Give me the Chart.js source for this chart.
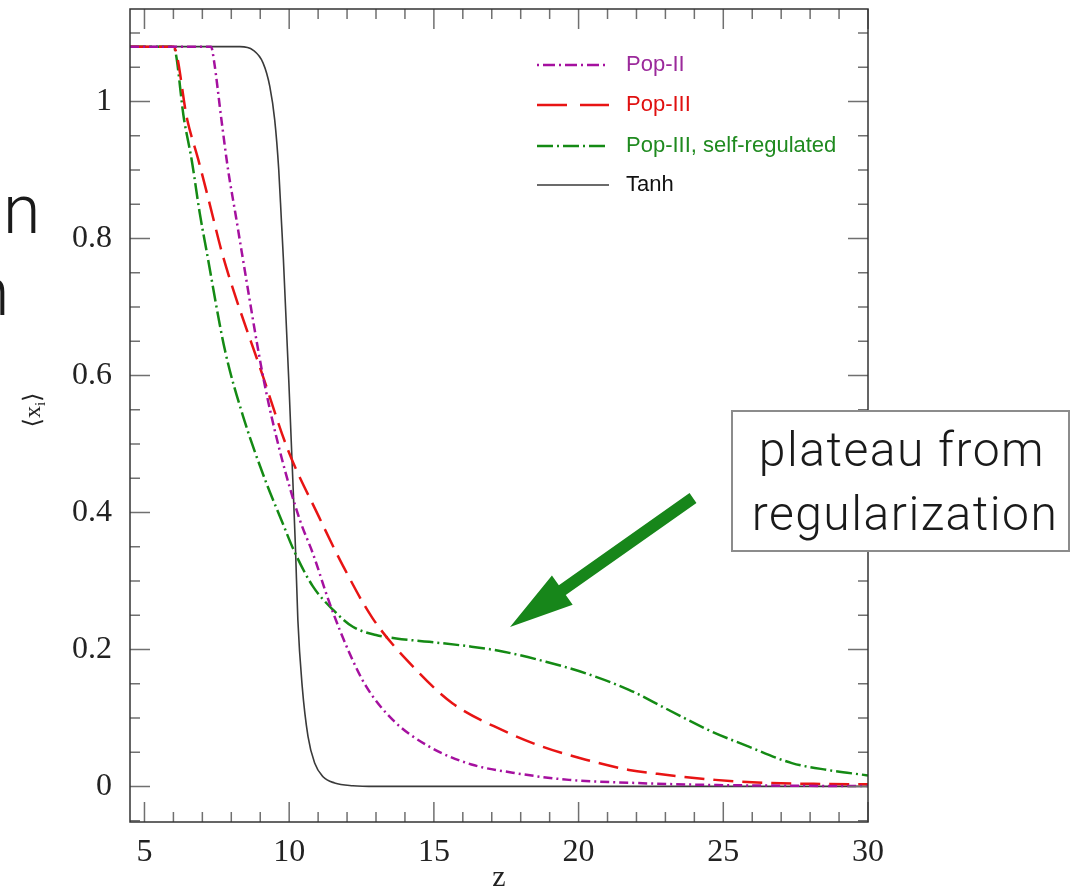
<!DOCTYPE html>
<html>
<head>
<meta charset="utf-8">
<script src="https://cdn.jsdelivr.net/npm/chart.js@4.4.1/dist/chart.umd.min.js"></script>
<style>
  html, body { margin: 0; padding: 0; background: #fff; }
</style>
</head>
<body>
<canvas id="chart" width="1073" height="892"></canvas>
<script>
// ionized fraction <x_i> against redshift z
const popIIZ = [4.5, 7.3, 7.4, 7.66, 7.89, 8.16, 8.35, 9.1, 9.67, 10.36, 10.82, 11.4, 12.09, 12.66, 13.58, 14.84, 16.3, 17.72, 19.67, 21.97, 24, 27, 30];
const popIIX = [1.08, 1.08, 1.06, 0.973, 0.9, 0.832, 0.783, 0.598, 0.491, 0.39, 0.34, 0.267, 0.194, 0.146, 0.097, 0.058, 0.032, 0.02, 0.0095, 0.005, 0.0025, 0.001, 0.0005];

const popIIIZ = [4.5, 6.0, 6.48, 6.86, 7.22, 7.72, 9.1, 9.96, 11.0, 11.86, 12.89, 14.39, 15.65, 17.37, 18.75, 20.25, 21.74, 23.0, 24.73, 26.57, 28.5, 30];
const popIIIX = [1.08, 1.08, 0.973, 0.915, 0.856, 0.773, 0.598, 0.491, 0.396, 0.322, 0.245, 0.17, 0.121, 0.082, 0.058, 0.039, 0.024, 0.017, 0.0095, 0.005, 0.0035, 0.003];

const selfRegZ = [4.5, 6.0, 6.37, 6.63, 6.91, 7.14, 7.78, 8.41, 9.21, 9.73, 10.19, 10.82, 11.51, 12.2, 13.0, 13.7, 14.84, 16.3, 17.37, 18.87, 20.25, 21.74, 23.0, 24.5, 25.88, 27.37, 28.6, 30];
const selfRegX = [1.08, 1.08, 0.973, 0.915, 0.837, 0.783, 0.637, 0.54, 0.443, 0.389, 0.342, 0.292, 0.258, 0.233, 0.221, 0.216, 0.211, 0.204, 0.197, 0.182, 0.165, 0.141, 0.114, 0.082, 0.058, 0.034, 0.024, 0.016];

const tanhZ = [4.5, 8.3, 8.75, 9.1, 9.33, 9.5, 9.64, 9.73, 9.8, 9.99, 10.13, 10.22, 10.3, 10.45, 10.65, 10.88, 11.17, 11.57, 12.2, 13, 30];
const tanhX = [1.08, 1.08, 1.075, 1.056, 1.022, 0.973, 0.9, 0.827, 0.77, 0.589, 0.443, 0.345, 0.243, 0.146, 0.073, 0.034, 0.014, 0.005, 0.001, 0, 0];

const seriesLabels = ["Pop-II", "Pop-III", "Pop-III, self-regulated", "Tanh"];
const xTicks = [5, 10, 15, 20, 25, 30];
const yTicks = [0, 0.2, 0.4, 0.6, 0.8, 1];

const toPoints = (zs, xs) => zs.map((z, i) => ({ x: z, y: xs[i] }));

const serif = "'Liberation Serif', 'DejaVu Serif', serif";
const sans = "'Liberation Sans', Arial, sans-serif";
const light = "Roboto, 'Liberation Sans', sans-serif";

const overlay = {
  id: "overlay",
  afterDraw(chart) {
    const ctx = chart.ctx;
    const { left, right, top, bottom } = chart.chartArea;
    const xs = chart.scales.x;
    const ys = chart.scales.y;
    ctx.save();

    // inward ticks on all four sides
    ctx.strokeStyle = "#707070";
    ctx.lineWidth = 1.5;
    ctx.beginPath();
    for (let z = 5; z <= 30; z++) {
      const px = xs.getPixelForValue(z);
      const len = z % 5 === 0 ? 20 : 10;
      ctx.moveTo(px, bottom);
      ctx.lineTo(px, bottom - len);
      ctx.moveTo(px, top);
      ctx.lineTo(px, top + len);
    }
    for (let k = -1; k <= 22; k++) {
      const py = ys.getPixelForValue(k * 0.05);
      const len = k % 4 === 0 ? 20 : 10;
      ctx.moveTo(left, py);
      ctx.lineTo(left + len, py);
      ctx.moveTo(right, py);
      ctx.lineTo(right - len, py);
    }
    ctx.stroke();

    ctx.strokeStyle = "#333";
    ctx.lineWidth = 1.5;
    ctx.strokeRect(left, top, right - left, bottom - top);

    // axis titles
    ctx.fillStyle = "#222";
    ctx.font = "30px " + serif;
    ctx.textAlign = "center";
    ctx.textBaseline = "alphabetic";
    ctx.fillText("z", (left + right) / 2, 886);

    ctx.save();
    ctx.translate(40, 410);
    ctx.rotate(-Math.PI / 2);
    ctx.font = "24px " + serif;
    ctx.textAlign = "left";
    const w1 = ctx.measureText("\u27E8x").width;
    ctx.font = "15px " + serif;
    const w2 = ctx.measureText("i").width;
    ctx.font = "24px " + serif;
    const w3 = ctx.measureText("\u27E9").width;
    const x0 = -(w1 + w2 + w3) / 2;
    ctx.fillText("\u27E8x", x0, 0);
    ctx.font = "15px " + serif;
    ctx.fillText("i", x0 + w1, 5);
    ctx.font = "24px " + serif;
    ctx.fillText("\u27E9", x0 + w1 + w2, 0);
    ctx.restore();

    // legend
    const rowY = [65, 105, 146, 185];
    chart.data.datasets.forEach((ds, i) => {
      ctx.strokeStyle = ds.borderColor;
      ctx.lineWidth = ds.borderWidth;
      ctx.setLineDash(ds.legendDash || []);
      ctx.beginPath();
      ctx.moveTo(537, rowY[i]);
      ctx.lineTo(609, rowY[i]);
      ctx.stroke();
      ctx.setLineDash([]);
      ctx.fillStyle = ds.textColor;
      ctx.font = "22px " + sans;
      ctx.textAlign = "left";
      ctx.textBaseline = "middle";
      ctx.fillText(ds.label, 626, rowY[i]);
    });

    // slide fragments on the left edge
    ctx.fillStyle = "#1a1a1a";
    ctx.font = "300 68px " + light;
    ctx.textBaseline = "alphabetic";
    ctx.textAlign = "left";
    ctx.fillText("n", 3, 233);
    ctx.fillText("n", -28, 315);

    // callout box
    ctx.fillStyle = "#fff";
    ctx.fillRect(732, 411, 337, 140);
    ctx.strokeStyle = "#8c8c8c";
    ctx.lineWidth = 2;
    ctx.strokeRect(732, 411, 337, 140);
    ctx.fillStyle = "#1a1a1a";
    ctx.font = "300 48px " + light;
    ctx.textAlign = "left";
    ctx.letterSpacing = "1.5px";
    const line1 = "plateau from";
    const line2 = "regularization";
    const lw1 = ctx.measureText(line1).width;
    const lw2 = ctx.measureText(line2).width;
    ctx.fillText(line1, 902 - lw1 / 2, 466);
    ctx.fillText(line2, 905 - lw2 / 2, 530);
    ctx.letterSpacing = "0px";

    // arrow
    const tail = { x: 693, y: 498 };
    const tip = { x: 510, y: 627 };
    const dx = tip.x - tail.x, dy = tip.y - tail.y;
    const L = Math.hypot(dx, dy);
    const ux = dx / L, uy = dy / L;
    const nx = -uy, ny = ux;
    const headLen = 64, headHalf = 18, shaftHalf = 6;
    const bx = tip.x - ux * headLen, by = tip.y - uy * headLen;
    ctx.fillStyle = "#17861a";
    ctx.beginPath();
    ctx.moveTo(tail.x + nx * shaftHalf, tail.y + ny * shaftHalf);
    ctx.lineTo(bx + nx * shaftHalf, by + ny * shaftHalf);
    ctx.lineTo(bx + nx * headHalf, by + ny * headHalf);
    ctx.lineTo(tip.x, tip.y);
    ctx.lineTo(bx - nx * headHalf, by - ny * headHalf);
    ctx.lineTo(bx - nx * shaftHalf, by - ny * shaftHalf);
    ctx.lineTo(tail.x - nx * shaftHalf, tail.y - ny * shaftHalf);
    ctx.closePath();
    ctx.fill();

    ctx.restore();
  }
};

new Chart(document.getElementById("chart"), {
  type: "line",
  data: {
    datasets: [
      {
        label: seriesLabels[0],
        data: toPoints(popIIZ, popIIX),
        borderColor: "#a5109f",
        textColor: "#9b2a9b",
        borderWidth: 2.5,
        borderDash: [9, 4, 2, 4],
        legendDash: [2, 4, 12, 4],
      },
      {
        label: seriesLabels[1],
        data: toPoints(popIIIZ, popIIIX),
        borderColor: "#e81414",
        textColor: "#e01010",
        borderWidth: 2.5,
        borderDash: [20, 9],
        legendDash: [30, 13],
      },
      {
        label: seriesLabels[2],
        data: toPoints(selfRegZ, selfRegX),
        borderColor: "#148a14",
        textColor: "#1f8a1f",
        borderWidth: 2.5,
        borderDash: [16, 4, 2, 4],
        legendDash: [16, 4, 2, 4],
      },
      {
        label: seriesLabels[3],
        data: toPoints(tanhZ, tanhX),
        borderColor: "#3a3a3a",
        textColor: "#111",
        borderWidth: 1.6,
      },
    ],
  },
  options: {
    responsive: false,
    animation: false,
    layout: { padding: { top: 9, right: 205, left: 0, bottom: 0 } },
    elements: {
      point: { radius: 0 },
      line: { cubicInterpolationMode: "monotone", fill: false },
    },
    plugins: {
      legend: { display: false },
      tooltip: { enabled: false },
    },
    scales: {
      x: {
        type: "linear",
        min: 4.5,
        max: 30,
        afterBuildTicks: (scale) => {
          scale.ticks = xTicks.map((v) => ({ value: v }));
        },
        afterFit: (scale) => {
          scale.height = 70;
          scale.paddingLeft = 0;
          scale.paddingRight = 0;
        },
        grid: { display: false, drawTicks: false },
        border: { display: false },
        ticks: {
          color: "#222",
          padding: 11,
          maxRotation: 0,
          font: { family: serif, size: 32 },
        },
      },
      y: {
        type: "linear",
        min: -0.052,
        max: 1.135,
        afterBuildTicks: (scale) => {
          scale.ticks = yTicks.map((v) => ({ value: v }));
        },
        afterFit: (scale) => {
          scale.width = 130;
          scale.paddingTop = 0;
          scale.paddingBottom = 0;
        },
        grid: { display: false, drawTicks: false },
        border: { display: false },
        ticks: {
          color: "#222",
          padding: 18,
          font: { family: serif, size: 32 },
          callback: (v) => String(v),
        },
      },
    },
  },
  plugins: [overlay],
});
</script>
</body>
</html>
